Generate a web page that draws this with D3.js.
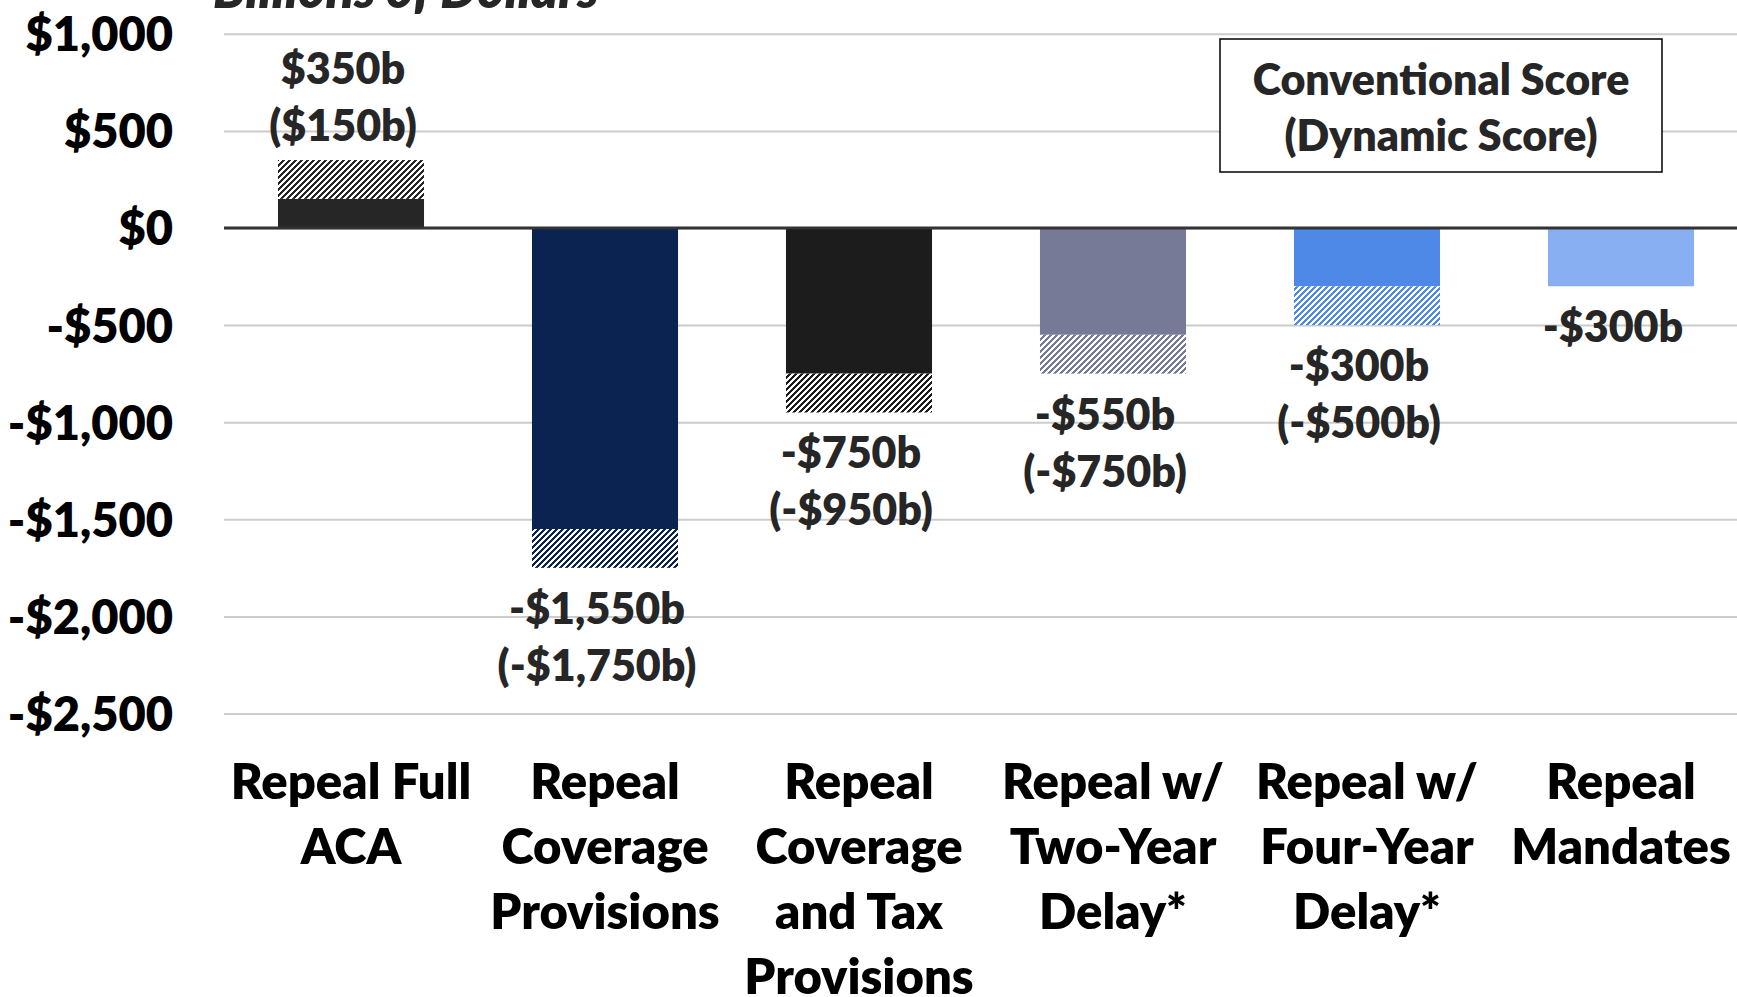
<!DOCTYPE html>
<html><head><meta charset="utf-8">
<script src="https://cdn.jsdelivr.net/npm/d3@7"></script>
<style>html,body{margin:0;padding:0;background:#fff;overflow:hidden}</style>
</head><body>
<svg id="chart" width="1737" height="997"></svg>
<script>
// ---- data ----
const categories = [
  "Repeal Full\nACA",
  "Repeal\nCoverage\nProvisions",
  "Repeal\nCoverage\nand Tax\nProvisions",
  "Repeal w/\nTwo-Year\nDelay*",
  "Repeal w/\nFour-Year\nDelay*",
  "Repeal\nMandates"
];
const conventional = [350, -1550, -750, -550, -300, -300];
const dynamic = [150, -1750, -950, -750, -500, null];
const barColors = ["#262626", "#0b2350", "#1c1c1c", "#777a96", "#4f89e8", "#88aff2"];
const yTicks = [1000, 500, 0, -500, -1000, -1500, -2000, -2500];
const titleText = "Billions of Dollars";
const legendLines = ["Conventional Score", "(Dynamic Score)"];

// ---- layout ----
const W = 1737, H = 997;
const plotLeft = 224, plotRight = 1748;
const svg = d3.select("#chart");
const FONT = "Lato, 'Open Sans', sans-serif";
const WEIGHT = 800;

const x = d3.scaleBand().domain(d3.range(categories.length))
  .range([plotLeft, plotRight]).paddingInner(0.425).paddingOuter(0.2125);
const y = d3.scaleLinear().domain([-2500, 1000]).range([713.5, 33.8]);

const fmt = v => (v < 0 ? "-" : "") + "$" + d3.format(",")(Math.abs(v)) + "b";

// patterns
const defs = svg.append("defs");
barColors.forEach((c, i) => {
  const p = defs.append("pattern").attr("id", "hatch" + i)
    .attr("patternUnits", "userSpaceOnUse").attr("width", 6).attr("height", 6);
  p.append("rect").attr("width", 6).attr("height", 6).attr("fill", "#fff");
  p.append("path").attr("d", "M-1,1 l2,-2 M0,6 l6,-6 M5,7 l2,-2")
    .attr("stroke", c).attr("stroke-width", 1.7).attr("shape-rendering", "crispEdges");
});

// gridlines + y axis
const yAxis = d3.axisLeft(y).tickValues(yTicks)
  .tickSizeInner(-(W - plotLeft)).tickSizeOuter(0).tickPadding(51)
  .tickFormat(v => (v < 0 ? "-" : "") + "$" + d3.format(",")(Math.abs(v)));
const gy = svg.append("g").attr("transform", `translate(${plotLeft},0)`).call(yAxis);
gy.select(".domain").remove();
gy.selectAll(".tick line").attr("stroke", "#cccccc").attr("stroke-width", 2);
gy.selectAll(".tick text").attr("font-family", FONT).attr("font-weight", WEIGHT)
  .attr("font-size", 47).attr("fill", "#000").attr("dy", "0.36em");

// bars
const data = categories.map((c, i) => {
  const conv = conventional[i], dyn = dynamic[i];
  const near = dyn == null ? conv : (Math.abs(conv) < Math.abs(dyn) ? conv : dyn);
  const far = dyn == null ? conv : (Math.abs(conv) < Math.abs(dyn) ? dyn : conv);
  return { i, c, conv, dyn, near, far };
});

const gBars = svg.append("g");
gBars.selectAll("rect.solid").data(data).join("rect").attr("class", "solid")
  .attr("x", d => x(d.i)).attr("width", x.bandwidth())
  .attr("y", d => y(Math.max(0, d.near))).attr("height", d => Math.abs(y(d.near) - y(0)))
  .attr("fill", d => barColors[d.i]);
gBars.selectAll("rect.hatch").data(data.filter(d => d.far !== d.near)).join("rect").attr("class", "hatch")
  .attr("x", d => x(d.i)).attr("width", x.bandwidth())
  .attr("y", d => Math.min(y(d.near), y(d.far))).attr("height", d => Math.abs(y(d.far) - y(d.near)))
  .attr("fill", d => `url(#hatch${d.i})`);

// zero line
svg.append("line").attr("x1", plotLeft).attr("x2", W).attr("y1", y(0)).attr("y2", y(0))
  .attr("stroke", "#333").attr("stroke-width", 3);

// value labels
const LH = 57;
data.forEach(d => {
  const lines = [fmt(d.conv)];
  if (d.dyn != null) lines.push("(" + fmt(d.dyn) + ")");
  const cx = x(d.i) + x.bandwidth() / 2 - 8;
  let base;
  if (d.far >= 0) base = y(d.far) - 19 - (lines.length - 1) * LH;
  else base = y(d.far) + 56;
  const t = svg.append("text").attr("text-anchor", "middle").attr("font-family", FONT)
    .attr("font-weight", WEIGHT).attr("font-size", 43).attr("fill", "#262626");
  lines.forEach((l, k) => t.append("tspan").attr("x", cx).attr("y", base + k * LH).text(l));
});

// category labels
const xAxis = d3.axisBottom(x).tickSize(0).tickFormat("");
const gx = svg.append("g").attr("transform", `translate(0,${y(-2500)})`).call(xAxis);
gx.select(".domain").remove();
gx.selectAll(".tick").each(function(i) {
  const t = d3.select(this).append("text").attr("text-anchor", "middle").attr("font-family", FONT)
    .attr("font-weight", WEIGHT).attr("font-size", 49).attr("fill", "#000");
  categories[i].split("\n").forEach((l, k) =>
    t.append("tspan").attr("x", 0).attr("y", 799 - y(-2500) + k * 65).text(l));
});

// title (partially cut off at top)
svg.append("text").attr("x", 213).attr("y", 8).attr("font-family", FONT)
  .attr("font-weight", WEIGHT).attr("font-style", "italic").attr("font-size", 52)
  .attr("fill", "#262626").text(titleText);

// legend box
svg.append("rect").attr("x", 1220).attr("y", 39).attr("width", 442).attr("height", 133)
  .attr("fill", "#fff").attr("stroke", "#000").attr("stroke-width", 1.5);
const lt = svg.append("text").attr("text-anchor", "middle").attr("font-family", FONT)
  .attr("font-weight", WEIGHT).attr("font-size", 43).attr("fill", "#262626");
legendLines.forEach((l, k) => lt.append("tspan").attr("x", 1441).attr("y", 95 + k * 56).text(l));
</script>
</body></html>
